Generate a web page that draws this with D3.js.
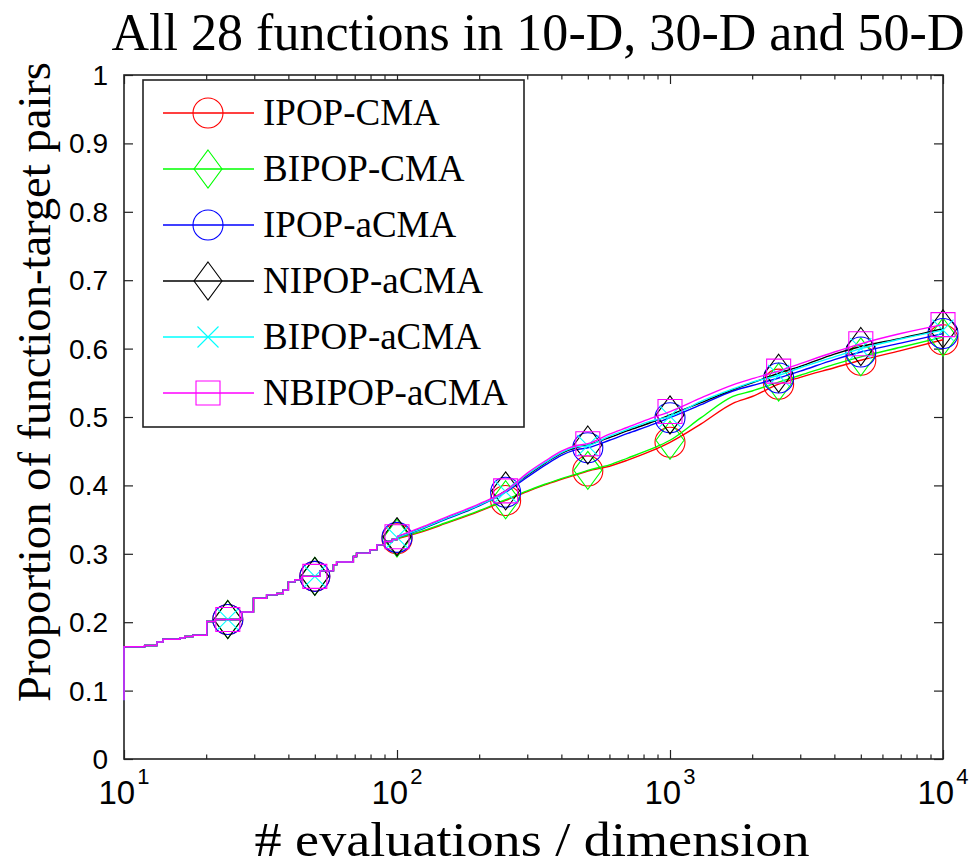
<!DOCTYPE html>
<html>
<head>
<meta charset="utf-8">
<script src="https://cdn.jsdelivr.net/npm/d3@7"></script>
<style>
  html, body { margin: 0; padding: 0; background: #fff; }
  svg { display: block; }
</style>
</head>
<body>
<svg id="chart" width="970" height="867"></svg>
<script>
// ---------------- DATA ----------------
const seriesNames = ["IPOP-CMA", "BIPOP-CMA", "IPOP-aCMA", "NIPOP-aCMA", "BIPOP-aCMA", "NBIPOP-aCMA"];
const seriesColors = ["#ff0000", "#00ff00", "#0000ff", "#000000", "#00ffff", "#ff00ff"];
const seriesMarkers = ["circle", "diamond", "circle", "diamond", "cross", "square"];

// shared staircase part (all six curves overlap here)
const stepX = [10, 10, 11.9, 13.2, 13.9, 16.0, 16.7, 17.9, 20.1, 21.5, 27, 29.8, 33.3, 36.3, 38.3, 40, 42.3, 44.7, 52.3, 58.5, 60.1, 69.2, 71.1, 79.6, 84.3, 90, 96, 100];
const stepY = [0.086, 0.164, 0.166, 0.171, 0.175, 0.177, 0.179, 0.181, 0.201, 0.204, 0.215, 0.235, 0.240, 0.242, 0.247, 0.259, 0.262, 0.267, 0.275, 0.284, 0.288, 0.296, 0.301, 0.306, 0.313, 0.318, 0.321, 0.324];

// smooth part
const smoothX = [100, 125, 150, 200, 250, 300, 350, 400, 450, 500, 600, 700, 850, 1000, 1300, 1700, 2000, 2500, 3000, 4000, 5000, 7000, 10000];
const ipopCMA    = [0.322, 0.333, 0.344, 0.362, 0.378, 0.391, 0.401, 0.409, 0.415, 0.421, 0.428, 0.437, 0.450, 0.463, 0.490, 0.520, 0.530, 0.548, 0.558, 0.572, 0.583, 0.597, 0.613];
const bipopCMA   = [0.323, 0.334, 0.345, 0.363, 0.379, 0.392, 0.402, 0.410, 0.416, 0.422, 0.430, 0.440, 0.453, 0.466, 0.499, 0.530, 0.538, 0.551, 0.561, 0.577, 0.588, 0.602, 0.617];
const ipopACMA   = [0.324, 0.337, 0.350, 0.370, 0.390, 0.412, 0.430, 0.444, 0.452, 0.455, 0.466, 0.476, 0.488, 0.499, 0.518, 0.538, 0.546, 0.557, 0.567, 0.584, 0.595, 0.608, 0.622];
const nipopACMA  = [0.325, 0.338, 0.351, 0.371, 0.392, 0.415, 0.433, 0.447, 0.455, 0.459, 0.470, 0.480, 0.492, 0.503, 0.521, 0.540, 0.550, 0.564, 0.574, 0.592, 0.603, 0.615, 0.629];
const bipopACMA  = [0.324, 0.338, 0.351, 0.371, 0.391, 0.416, 0.434, 0.448, 0.456, 0.458, 0.472, 0.482, 0.494, 0.501, 0.523, 0.541, 0.551, 0.561, 0.572, 0.588, 0.600, 0.614, 0.627];
const nbipopACMA = [0.325, 0.340, 0.353, 0.373, 0.392, 0.418, 0.436, 0.450, 0.458, 0.461, 0.475, 0.485, 0.498, 0.508, 0.528, 0.547, 0.556, 0.567, 0.578, 0.595, 0.607, 0.622, 0.635];
const seriesValues = [ipopCMA, bipopCMA, ipopACMA, nipopACMA, bipopACMA, nbipopACMA];

const markerX = [24, 50, 100, 250, 500, 1000, 2500, 5000, 10000];

const yTickValues = [0, 0.1, 0.2, 0.3, 0.4, 0.5, 0.6, 0.7, 0.8, 0.9, 1];
const yTickLabels = ["0", "0.1", "0.2", "0.3", "0.4", "0.5", "0.6", "0.7", "0.8", "0.9", "1"];
const xMajorTicks = [10, 100, 1000, 10000];
const xTickExponents = ["1", "2", "3", "4"];

const titleText = "All 28 functions in 10-D, 30-D and 50-D";
const xLabelText = "# evaluations / dimension";
const yLabelText = "Proportion of function-target pairs";

// ---------------- LAYOUT ----------------
const L = 124, R = 943, T = 75, B = 759;
const svg = d3.select("#chart");
const x = d3.scaleLog().domain([10, 10000]).range([L, R]);
const y = d3.scaleLinear().domain([0, 1]).range([B, T]);

const xMinor = [];
[10, 100, 1000].forEach(d => { for (let k = 2; k <= 9; k++) xMinor.push(d * k); });

const axisColor = "#222";
const serif = "'Liberation Serif', 'Times New Roman', serif";
const sans = "'Liberation Sans', Arial, Helvetica, sans-serif";

// frame (drawn first so curves lie on top)
svg.append("rect").attr("x", L).attr("y", T).attr("width", R - L).attr("height", B - T)
  .attr("fill", "none").attr("stroke", axisColor).attr("stroke-width", 1.6);

// axes (ticks inside, mirrored)
function styleAxis(g) {
  g.select(".domain").remove();
  g.selectAll("line").attr("stroke", axisColor).attr("stroke-width", 1.2);
  g.selectAll("text").remove();
}
svg.append("g").attr("transform", `translate(0,${B})`)
  .call(d3.axisBottom(x).tickValues(xMajorTicks).tickSize(-9)).call(styleAxis);
svg.append("g").attr("transform", `translate(0,${B})`)
  .call(d3.axisBottom(x).tickValues(xMinor).tickSize(-4.5)).call(styleAxis);
svg.append("g").attr("transform", `translate(0,${T})`)
  .call(d3.axisTop(x).tickValues(xMajorTicks).tickSize(-9)).call(styleAxis);
svg.append("g").attr("transform", `translate(0,${T})`)
  .call(d3.axisTop(x).tickValues(xMinor).tickSize(-4.5)).call(styleAxis);
svg.append("g").attr("transform", `translate(${L},0)`)
  .call(d3.axisLeft(y).tickValues(yTickValues).tickSize(-9)).call(styleAxis);
svg.append("g").attr("transform", `translate(${R},0)`)
  .call(d3.axisRight(y).tickValues(yTickValues).tickSize(-9)).call(styleAxis);

// y tick labels
svg.append("g").selectAll("text").data(yTickValues).join("text")
  .attr("x", L - 16).attr("y", d => y(d)).attr("dy", "0.36em")
  .attr("text-anchor", "end").attr("font-family", sans).attr("font-size", 28)
  .attr("fill", "#000")
  .text((d, i) => yTickLabels[i]);

// x tick labels with superscripts
const xl = svg.append("g").selectAll("text").data(xMajorTicks).join("text")
  .attr("x", d => x(d)).attr("y", 804)
  .attr("text-anchor", "middle").attr("font-family", sans).attr("font-size", 33).attr("fill", "#000");
xl.append("tspan").text("10");
xl.append("tspan").attr("font-size", 22).attr("dy", -20).attr("dx", 2).text((d, i) => xTickExponents[i]);

// curves
const lineStep = d3.line().x(d => x(d[0])).y(d => y(d[1])).curve(d3.curveStepAfter);
const lineSmooth = d3.line().x(d => x(d[0])).y(d => y(d[1])).curve(d3.curveMonotoneX);
const stepData = stepX.map((v, i) => [v, stepY[i]]);

function markerPath(type) {
  if (type === "circle") return d3.symbol(d3.symbolCircle, Math.PI * 15 * 15)();
  if (type === "diamond") return "M0,-19L14,0L0,19L-14,0Z";
  if (type === "square") return "M-12,-12H12V12H-12Z";
  if (type === "cross") return "M-10.5,-10.5L10.5,10.5M-10.5,10.5L10.5,-10.5";
}

function valueAt(si, xv) {
  const idx = smoothX.indexOf(xv);
  if (idx >= 0) return seriesValues[si][idx];
  let v = stepY[0];
  for (let i = 0; i < stepX.length; i++) if (stepX[i] <= xv) v = stepY[i];
  return v;
}

const plot = svg.append("g");
seriesNames.forEach((name, si) => {
  const g = plot.append("g");
  const col = seriesColors[si];
  g.append("path").attr("d", lineStep(stepData))
    .attr("fill", "none").attr("stroke", col).attr("stroke-width", 1.4);
  const sm = smoothX.map((v, i) => [v, seriesValues[si][i]]);
  g.append("path").attr("d", lineSmooth(sm))
    .attr("fill", "none").attr("stroke", col).attr("stroke-width", 1.4);
  g.selectAll("path.mk").data(markerX).join("path").attr("class", "mk")
    .attr("transform", d => `translate(${x(d)},${y(valueAt(si, d))})`)
    .attr("d", markerPath(seriesMarkers[si]))
    .attr("fill", "none").attr("stroke", col).attr("stroke-width", 1.1);
});

// legend
const lg = svg.append("g");
lg.append("rect").attr("x", 143).attr("y", 80).attr("width", 381).attr("height", 347)
  .attr("fill", "#fff").attr("stroke", axisColor).attr("stroke-width", 1.6);
const legendY = d3.scalePoint().domain(seriesNames).range([113, 393]);
seriesNames.forEach((name, si) => {
  const yy = legendY(name);
  const col = seriesColors[si];
  lg.append("line").attr("x1", 163).attr("x2", 254).attr("y1", yy).attr("y2", yy)
    .attr("stroke", col).attr("stroke-width", 1.4);
  lg.append("path").attr("transform", `translate(208,${yy})`).attr("d", markerPath(seriesMarkers[si]))
    .attr("fill", "none").attr("stroke", col).attr("stroke-width", 1.1);
  lg.append("text").attr("x", 263).attr("y", yy + 12)
    .attr("font-family", serif).attr("font-size", 37).attr("fill", "#000").text(name);
});

// title and axis labels
svg.append("text").attr("x", 538).attr("y", 50).attr("text-anchor", "middle")
  .attr("font-family", serif).attr("font-size", 52).attr("fill", "#000")
  .attr("textLength", 853).attr("lengthAdjust", "spacingAndGlyphs").text(titleText);
svg.append("text").attr("x", 532).attr("y", 856).attr("text-anchor", "middle")
  .attr("font-family", serif).attr("font-size", 48).attr("fill", "#000")
  .attr("textLength", 555).attr("lengthAdjust", "spacingAndGlyphs").text(xLabelText);
svg.append("text").attr("transform", "translate(50,382) rotate(-90)").attr("text-anchor", "middle")
  .attr("font-family", serif).attr("font-size", 46).attr("fill", "#000")
  .attr("textLength", 640).attr("lengthAdjust", "spacingAndGlyphs").text(yLabelText);
</script>
</body>
</html>
